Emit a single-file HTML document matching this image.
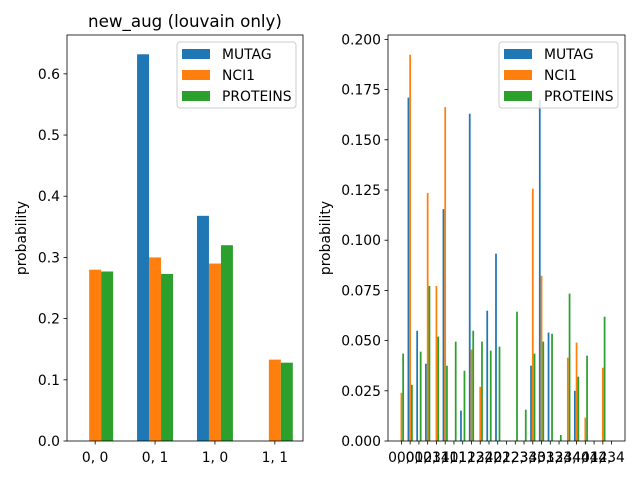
<!DOCTYPE html>
<html><head><meta charset="utf-8"><style>
body{margin:0;background:#fff}
svg{display:block;font-family:"DejaVu Sans","Liberation Sans",sans-serif}
</style></head><body>
<svg id="c" width="640" height="480"></svg>
<script>
const leftCats=["0, 0","0, 1","1, 0","1, 1"];
const leftMutag=[0,0.632,0.368,0];
const leftNci1=[0.280,0.300,0.290,0.133];
const leftProteins=[0.277,0.273,0.320,0.128];
const leftYTicks=[0,0.1,0.2,0.3,0.4,0.5,0.6];

const rightCats=[];
for(let i=0;i<5;i++)for(let j=0;j<5;j++)rightCats.push(i+", "+j);
const rightMutag=[0,0.171,0.0549,0.0385,0,0.1155,0,0.0151,0.163,0,0.0649,0.0933,0,0,0,0.0375,0.1698,0.054,0,0,0.025,0,0,0,0];
const rightNci1=[0.024,0.1924,0,0.1235,0.0772,0.1663,0,0,0.0455,0.027,0,0,0,0,0,0.1257,0.0823,0,0,0.0415,0.049,0.0116,0,0.0365,0];
const rightProteins=[0.0435,0.028,0.0445,0.0772,0.052,0.0375,0.0495,0.035,0.0549,0.0495,0.045,0.047,0,0.0644,0.0156,0.0435,0.0495,0.0534,0.003,0.0734,0.032,0.0425,0,0.0619,0];
const rightYTicks=[0,0.025,0.05,0.075,0.1,0.125,0.15,0.175,0.2];

const names=["MUTAG","NCI1","PROTEINS"];
const colors=["#1f77b4","#ff7f0e","#2ca02c"];
const svg=document.getElementById('c');
const NS="http://www.w3.org/2000/svg";
function mk(tag,attrs,parent){const e=document.createElementNS(NS,tag);for(const k in attrs)e.setAttribute(k,attrs[k]);(parent||svg).appendChild(e);return e;}

function panel(p){
  const g=mk('g',{});
  
  
  const x=v=>p.x0+(v-p.xmin)/(p.xmax-p.xmin)*(p.x1-p.x0);
  const y=v=>p.y1-(v-p.ymin)/(p.ymax-p.ymin)*(p.y1-p.y0);
  const series=[p.s0,p.s1,p.s2];
  series.forEach((s,si)=>{
    s.forEach((v,k)=>{
      if(v<=0)return;
      const cx=k+(si-1)*0.2;
      const r=mk('rect',{x:x(cx-0.1),y:y(v),width:x(cx+0.1)-x(cx-0.1),height:y(0)-y(v),fill:colors[si]},g);
      
      
    });
  });
  mk('rect',{x:p.x0,y:p.y0,width:p.x1-p.x0,height:p.y1-p.y0,fill:'none',stroke:'#000','stroke-width':0.8},g);
  p.yt.forEach(v=>{
    const yy=y(v);
    mk('line',{x1:p.x0-3.5,x2:p.x0,y1:yy,y2:yy,stroke:'#000','stroke-width':0.8},g);
    const t=mk('text',{x:p.x0-7,y:yy+5,'font-size':13.9,'text-anchor':'end'},g);
    t.textContent=v.toFixed(p.dec);
    
    
  });
  p.cats.forEach((c,k)=>{
    const xx=x(k);
    mk('line',{x1:xx,x2:xx,y1:p.y1,y2:p.y1+3.5,stroke:'#000','stroke-width':0.8},g);
    const t=mk('text',{x:xx,y:p.y1+21,'font-size':13.9,'text-anchor':'middle'},g);
    t.textContent=c;
    
    
  });
  const yl=mk('text',{x:0,y:0,'font-size':13.9,'text-anchor':'middle',transform:`translate(${p.yl},${(p.y0+p.y1)/2}) rotate(-90)`},g);
  yl.textContent='probability';
  
  
  const lg=mk('g',{},g);
  
  
  mk('rect',{x:p.x1-126,y:p.y0+7,width:119,height:66,fill:'#fff','fill-opacity':0.8,stroke:'#ccc',rx:3},lg);
  names.forEach((n,i)=>{
    const e=mk('g',{},lg);
    
    
    mk('rect',{x:p.x1-121,y:p.y0+14+i*21,width:28,height:10,fill:colors[i]},e);
    const t=mk('text',{x:p.x1-81,y:p.y0+24+i*21,'font-size':13.9},e);
    t.textContent=n;
  });
}
panel({name:'left-chart',x0:67,x1:303,y0:35,y1:441,xmin:-0.47,xmax:3.47,ymin:0,ymax:0.6635,cats:leftCats,s0:leftMutag,s1:leftNci1,s2:leftProteins,yt:leftYTicks,dec:1,yl:26});
panel({name:'right-chart',x0:388,x1:625,y0:35,y1:441,xmin:-1.53,xmax:25.53,ymin:0,ymax:0.2022,cats:rightCats,s0:rightMutag,s1:rightNci1,s2:rightProteins,yt:rightYTicks,dec:3,yl:330});
const title=mk('text',{x:185,y:27,'font-size':16.7,'text-anchor':'middle'});
title.textContent='new_aug (louvain only)';


</script>
</body></html>
